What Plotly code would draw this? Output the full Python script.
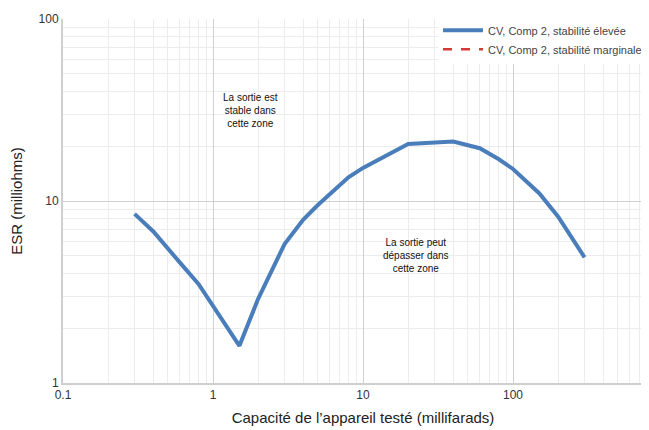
import plotly.graph_objects as go

cap_mf = [0.3, 0.4, 0.6, 0.8, 1.5, 2, 3, 4, 5, 8, 10, 15, 20, 40, 60, 80, 100, 150, 200, 300]
esr_high = [8.5, 6.8, 4.6, 3.5, 1.6, 2.9, 5.8, 7.9, 9.5, 13.5, 15.2, 18.3, 20.6, 21.2, 19.5, 17.0, 15.0, 11.0, 8.2, 4.9]
cap_marginal = [None]
esr_marginal = [None]

x_ticks = [0.1, 1, 10, 100, 1000]
x_tick_labels = ["0.1", "1", "10", "100", "1000"]
y_ticks = [1, 10, 100]
y_tick_labels = ["1", "10", "100"]

font = "Liberation Sans, Arial, sans-serif"

fig = go.Figure()
fig.add_trace(go.Scatter(x=cap_mf, y=esr_high, mode="lines",
                         name="CV, Comp 2, stabilité élevée",
                         line=dict(color="#4a7ebb", width=4)))
fig.add_trace(go.Scatter(x=cap_marginal, y=esr_marginal, mode="lines",
                         name="CV, Comp 2, stabilité marginale",
                         line=dict(color="#d23b36", width=2.5, dash="dash")))

fig.add_annotation(x=0.247, y=1.495, xref="x", yref="y", showarrow=False,
                   text="La sortie est<br>stable dans<br>cette zone",
                   font=dict(family=font, size=10, color="#111"), align="center")
fig.add_annotation(x=1.35, y=0.70, xref="x", yref="y", showarrow=False,
                   text="La sortie peut<br>dépasser dans<br>cette zone",
                   font=dict(family=font, size=10, color="#111"), align="center")

fig.update_layout(
    width=655, height=430, autosize=False,
    margin=dict(l=55, r=0, t=11, b=55, autoexpand=False),
    paper_bgcolor="white", plot_bgcolor="white",
    font=dict(family=font, size=12, color="#333"),
    showlegend=True,
    legend=dict(x=0.625, y=1.009, xanchor="left", yanchor="top",
                bgcolor="white", font=dict(size=11, color="#444"),
                itemwidth=40, tracegroupgap=2),
    xaxis=dict(type="log", range=[-1, 3],
               tickvals=x_ticks, ticktext=x_tick_labels, automargin=False,
               showgrid=True, gridcolor="#d0d0d0", gridwidth=1,
               minor=dict(dtick="D1", showgrid=True, gridcolor="#ececec", gridwidth=1),
               showline=True, linecolor="#cfcfcf", linewidth=2,
               zeroline=False, ticks="", tickfont=dict(size=12, color="#333"),
               title=dict(text="Capacité de l’appareil testé (millifarads)",
                          font=dict(size=15, color="#222"), standoff=11)),
    yaxis=dict(type="log", range=[0, 2],
               tickvals=y_ticks, ticktext=y_tick_labels, automargin=False,
               showgrid=True, gridcolor="#d0d0d0", gridwidth=1,
               minor=dict(dtick="D1", showgrid=True, gridcolor="#ececec", gridwidth=1),
               showline=True, linecolor="#cfcfcf", linewidth=2,
               zeroline=False, ticks="", tickfont=dict(size=12, color="#333"),
               title=dict(text="ESR (milliohms)", font=dict(size=15, color="#222"), standoff=16)),
)

fig.write_html("out.html")
